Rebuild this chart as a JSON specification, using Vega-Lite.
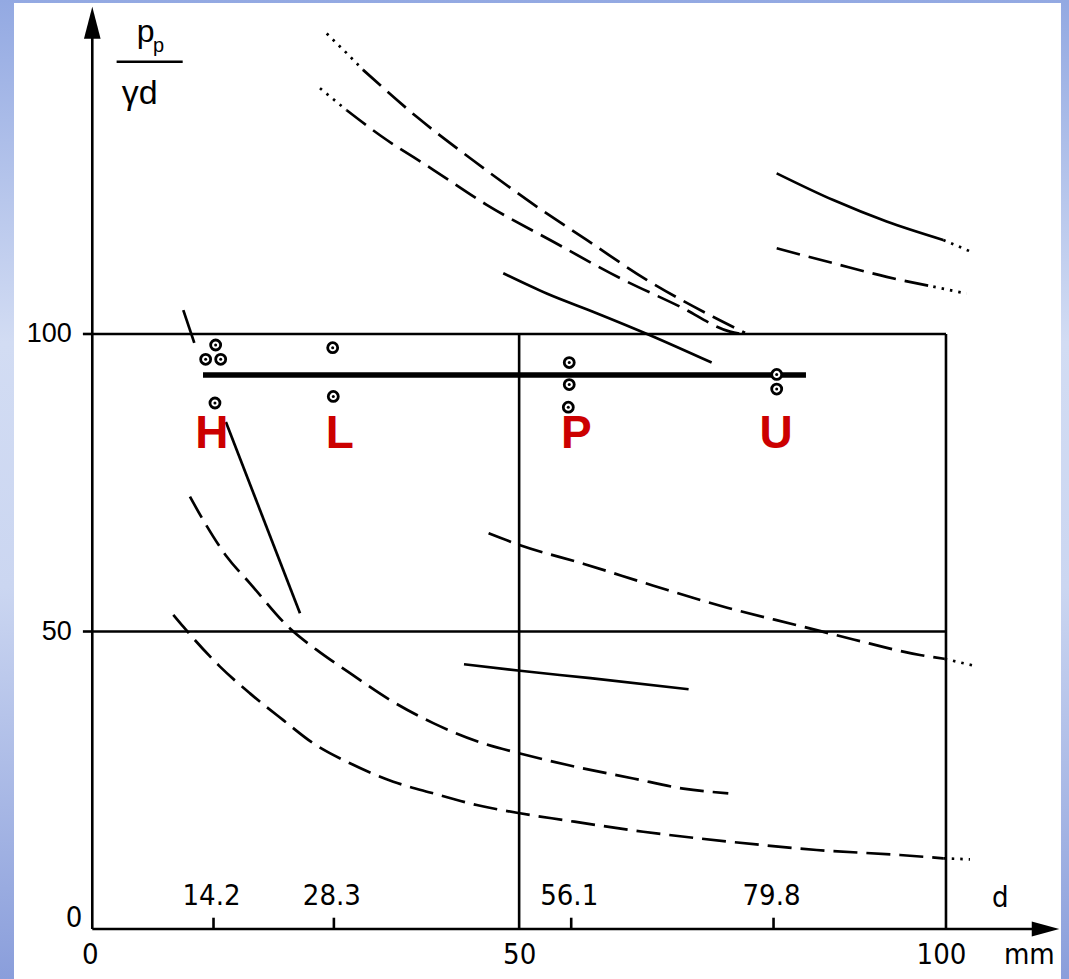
{
  "$schema": "https://vega.github.io/schema/vega-lite/v6.json",
  "width": 1069,
  "height": 979,
  "padding": 0,
  "autosize": {"type": "none"},
  "background": "white",
  "config": {"view": {"stroke": null}},
  "datasets": {
    "dashed": [
      {"curve": "A", "x": 31.71, "y": 144.4}, {"curve": "A", "x": 38.0, "y": 136.5}, {"curve": "A", "x": 44.59, "y": 129.2}, {"curve": "A", "x": 51.27, "y": 122.2}, {"curve": "A", "x": 57.91, "y": 115.8}, {"curve": "A", "x": 64.94, "y": 109.1}, {"curve": "A", "x": 72.71, "y": 102.9}, {"curve": "A", "x": 76.46, "y": 100.2},
      {"curve": "B", "x": 29.8, "y": 137.6}, {"curve": "B", "x": 33.7, "y": 133.4}, {"curve": "B", "x": 39.94, "y": 127.6}, {"curve": "B", "x": 46.2, "y": 121.7}, {"curve": "B", "x": 54.0, "y": 115.5}, {"curve": "B", "x": 61.8, "y": 109.4}, {"curve": "B", "x": 68.84, "y": 104.6}, {"curve": "B", "x": 74.7, "y": 100.4}, {"curve": "B", "x": 76.1, "y": 100.0},
      {"curve": "E", "x": 80.17, "y": 114.4}, {"curve": "E", "x": 86.8, "y": 111.9}, {"curve": "E", "x": 93.05, "y": 109.6}, {"curve": "E", "x": 98.51, "y": 107.95},
      {"curve": "I", "x": 11.44, "y": 72.66}, {"curve": "I", "x": 13.0, "y": 68.7}, {"curve": "I", "x": 15.74, "y": 62.6}, {"curve": "I", "x": 18.47, "y": 58.1}, {"curve": "I", "x": 23.16, "y": 50.5}, {"curve": "I", "x": 26.29, "y": 46.9}, {"curve": "I", "x": 30.19, "y": 43.0}, {"curve": "I", "x": 34.87, "y": 38.5}, {"curve": "I", "x": 39.94, "y": 34.6}, {"curve": "I", "x": 45.8, "y": 31.2}, {"curve": "I", "x": 50.1, "y": 29.5}, {"curve": "I", "x": 55.57, "y": 27.6}, {"curve": "I", "x": 63.37, "y": 25.3}, {"curve": "I", "x": 69.23, "y": 23.6}, {"curve": "I", "x": 74.5, "y": 22.8},
      {"curve": "J", "x": 9.49, "y": 52.8}, {"curve": "J", "x": 10.66, "y": 50.8}, {"curve": "J", "x": 14.96, "y": 44.1}, {"curve": "J", "x": 18.47, "y": 39.6}, {"curve": "J", "x": 22.37, "y": 35.1}, {"curve": "J", "x": 25.89, "y": 31.2}, {"curve": "J", "x": 30.19, "y": 27.85}, {"curve": "J", "x": 35.26, "y": 24.76}, {"curve": "J", "x": 39.94, "y": 22.8}, {"curve": "J", "x": 45.03, "y": 20.84}, {"curve": "J", "x": 50.1, "y": 19.45}, {"curve": "J", "x": 55.17, "y": 18.32}, {"curve": "J", "x": 64.54, "y": 16.35}, {"curve": "J", "x": 74.7, "y": 14.67}, {"curve": "J", "x": 84.85, "y": 13.28}, {"curve": "J", "x": 94.6, "y": 12.44}, {"curve": "J", "x": 99.68, "y": 11.88},
      {"curve": "K", "x": 46.42, "y": 66.5}, {"curve": "K", "x": 50.12, "y": 64.5}, {"curve": "K", "x": 57.5, "y": 61.4}, {"curve": "K", "x": 65.74, "y": 57.7}, {"curve": "K", "x": 74.37, "y": 54.0}, {"curve": "K", "x": 83.0, "y": 50.9}, {"curve": "K", "x": 89.16, "y": 48.66}, {"curve": "K", "x": 96.95, "y": 46.05}, {"curve": "K", "x": 99.85, "y": 45.4}
    ],
    "dotted": [
      {"curve": "A0", "x": 27.46, "y": 150.5}, {"curve": "A0", "x": 29.8, "y": 147.2}, {"curve": "A0", "x": 31.71, "y": 144.4},
      {"curve": "B0", "x": 26.67, "y": 141.3}, {"curve": "B0", "x": 29.8, "y": 137.6},
      {"curve": "D1", "x": 99.68, "y": 115.8}, {"curve": "D1", "x": 102.73, "y": 113.95},
      {"curve": "E1", "x": 98.51, "y": 107.95}, {"curve": "E1", "x": 102.42, "y": 106.8},
      {"curve": "J1", "x": 99.68, "y": 11.88}, {"curve": "J1", "x": 102.81, "y": 11.71},
      {"curve": "K1", "x": 99.85, "y": 45.4}, {"curve": "K1", "x": 103.14, "y": 44.3}
    ],
    "solid": [
      {"curve": "C", "x": 48.14, "y": 110.2}, {"curve": "C", "x": 53.23, "y": 106.8}, {"curve": "C", "x": 59.08, "y": 103.5}, {"curve": "C", "x": 65.33, "y": 99.8}, {"curve": "C", "x": 72.55, "y": 95.2},
      {"curve": "D", "x": 80.17, "y": 127.0}, {"curve": "D", "x": 86.8, "y": 122.5}, {"curve": "D", "x": 93.05, "y": 118.9}, {"curve": "D", "x": 99.68, "y": 115.8},
      {"curve": "F", "x": 10.66, "y": 104.0}, {"curve": "F", "x": 11.95, "y": 98.5},
      {"curve": "G", "x": 15.65, "y": 85.2}, {"curve": "G", "x": 24.33, "y": 53.06},
      {"curve": "M", "x": 43.54, "y": 44.5}, {"curve": "M", "x": 50.12, "y": 43.4}, {"curve": "M", "x": 58.35, "y": 42.15}, {"curve": "M", "x": 69.85, "y": 40.3}
    ],
    "mean": [
      {"x": 12.97, "y": 93.1}, {"x": 83.6, "y": 93.1}
    ],
    "points": [
      {"group": "H", "x": 14.45, "y": 98.15}, {"group": "H", "x": 13.28, "y": 95.75}, {"group": "H", "x": 15.04, "y": 95.75}, {"group": "H", "x": 14.37, "y": 88.4},
      {"group": "L", "x": 28.16, "y": 97.7}, {"group": "L", "x": 28.23, "y": 89.5},
      {"group": "P", "x": 55.87, "y": 95.2}, {"group": "P", "x": 55.87, "y": 91.5}, {"group": "P", "x": 55.76, "y": 87.7},
      {"group": "U", "x": 80.17, "y": 93.2}, {"group": "U", "x": 80.17, "y": 90.75}
    ],
    "frame": [
      {"x": 0, "y": 100, "x2": 100, "y2": 100},
      {"x": 0, "y": 50, "x2": 100, "y2": 50},
      {"x": 50, "y": 0, "x2": 50, "y2": 100},
      {"x": 100, "y": 0, "x2": 100, "y2": 100},
      {"x": 0, "y": 0, "x2": 0, "y2": 152},
      {"x": 0, "y": 0, "x2": 111, "y2": 0},
      {"x": -1.1, "y": 100, "x2": 0, "y2": 100},
      {"x": -1.1, "y": 50, "x2": 0, "y2": 50},
      {"x": 14.2, "y": 0, "x2": 14.2, "y2": 1.9},
      {"x": 28.3, "y": 0, "x2": 28.3, "y2": 1.9},
      {"x": 56.1, "y": 0, "x2": 56.1, "y2": 1.9},
      {"x": 79.8, "y": 0, "x2": 79.8, "y2": 1.9},
      {"x": 2.85, "y": 145.76, "x2": 10.59, "y2": 145.76}
    ],
    "letters": [
      {"label": "H", "x": 14.0, "y": 80.8},
      {"label": "L", "x": 29.0, "y": 80.8},
      {"label": "P", "x": 56.7, "y": 80.8},
      {"label": "U", "x": 80.1, "y": 80.8}
    ],
    "condensed": [
      {"label": "14.2", "x": 14.2, "y": 4.0},
      {"label": "28.3", "x": 28.3, "y": 4.0},
      {"label": "56.1", "x": 56.1, "y": 4.0},
      {"label": "79.8", "x": 79.8, "y": 4.0},
      {"label": "d", "x": 106.6, "y": 3.75},
      {"label": "0", "x": 0.0, "y": -5.9},
      {"label": "50", "x": 50.3, "y": -5.9},
      {"label": "100", "x": 99.7, "y": -5.9},
      {"label": "mm", "x": 110.0, "y": -5.9},
      {"label": "0", "x": -1.9, "y": 0.4}
    ],
    "ylabels": [
      {"label": "100", "x": -2.4, "y": 100},
      {"label": "50", "x": -2.4, "y": 50}
    ]
  },
  "layer": [
    {
      "data": {"values": [{}]},
      "mark": {"type": "rect", "color": {"gradient": "linear", "x1": 0, "y1": 0, "x2": 0, "y2": 1, "stops": [{"offset": 0, "color": "#93a9e2"}, {"offset": 0.35, "color": "#d2dcf3"}, {"offset": 0.6, "color": "#cbd6f1"}, {"offset": 1, "color": "#8a9edb"}]}},
      "encoding": {
        "x": {"datum": -10.81, "type": "quantitative", "scale": {"domain": [-10.81, 114.41], "nice": false, "zero": false}, "axis": null},
        "x2": {"datum": 114.41},
        "y": {"datum": -8.4, "type": "quantitative", "scale": {"domain": [-8.4, 156.13], "nice": false, "zero": false}, "axis": null},
        "y2": {"datum": 156.13}
      }
    },
    {
      "data": {"values": [{}]},
      "mark": {"type": "rect", "color": "white"},
      "encoding": {
        "x": {"datum": -9.17, "type": "quantitative", "scale": {"domain": [-10.81, 114.41], "nice": false, "zero": false}, "axis": null},
        "x2": {"datum": 113.47},
        "y": {"datum": -8.4, "type": "quantitative", "scale": {"domain": [-8.4, 156.13], "nice": false, "zero": false}, "axis": null},
        "y2": {"datum": 155.63}
      }
    },
    {
      "data": {"name": "frame"},
      "mark": {"type": "rule", "color": "black", "strokeWidth": 2.6, "strokeCap": "butt"},
      "encoding": {
        "x": {"field": "x", "type": "quantitative", "scale": {"domain": [-10.81, 114.41], "nice": false, "zero": false}, "axis": null},
        "x2": {"field": "x2"},
        "y": {"field": "y", "type": "quantitative", "scale": {"domain": [-8.4, 156.13], "nice": false, "zero": false}, "axis": null},
        "y2": {"field": "y2"}
      }
    },
    {
      "data": {"values": [{"axis": "y", "x": 0, "y": 152.3}]},
      "mark": {"type": "point", "shape": "M0,-1L0.52,1L-0.52,1Z", "size": 1024, "filled": true, "color": "black", "opacity": 1},
      "encoding": {
        "x": {"field": "x", "type": "quantitative", "scale": {"domain": [-10.81, 114.41], "nice": false, "zero": false}, "axis": null},
        "y": {"field": "y", "type": "quantitative", "scale": {"domain": [-8.4, 156.13], "nice": false, "zero": false}, "axis": null}
      }
    },
    {
      "data": {"values": [{"axis": "x", "x": 111.66, "y": 0}]},
      "mark": {"type": "point", "shape": "M1,0L-1,-0.54L-1,0.54Z", "size": 762, "filled": true, "color": "black", "opacity": 1},
      "encoding": {
        "x": {"field": "x", "type": "quantitative", "scale": {"domain": [-10.81, 114.41], "nice": false, "zero": false}, "axis": null},
        "y": {"field": "y", "type": "quantitative", "scale": {"domain": [-8.4, 156.13], "nice": false, "zero": false}, "axis": null}
      }
    },
    {
      "data": {"name": "dashed"},
      "mark": {"type": "line", "color": "black", "strokeWidth": 2.7, "strokeDash": [24, 9], "strokeCap": "butt", "interpolate": "monotone"},
      "encoding": {
        "x": {"field": "x", "type": "quantitative", "scale": {"domain": [-10.81, 114.41], "nice": false, "zero": false}, "axis": null},
        "y": {"field": "y", "type": "quantitative", "scale": {"domain": [-8.4, 156.13], "nice": false, "zero": false}, "axis": null},
        "detail": {"field": "curve", "type": "nominal"}
      }
    },
    {
      "data": {"name": "dotted"},
      "mark": {"type": "line", "color": "black", "strokeWidth": 2.7, "strokeDash": [2.5, 6], "strokeCap": "butt"},
      "encoding": {
        "x": {"field": "x", "type": "quantitative", "scale": {"domain": [-10.81, 114.41], "nice": false, "zero": false}, "axis": null},
        "y": {"field": "y", "type": "quantitative", "scale": {"domain": [-8.4, 156.13], "nice": false, "zero": false}, "axis": null},
        "detail": {"field": "curve", "type": "nominal"}
      }
    },
    {
      "data": {"name": "solid"},
      "mark": {"type": "line", "color": "black", "strokeWidth": 2.7, "strokeCap": "butt", "interpolate": "monotone"},
      "encoding": {
        "x": {"field": "x", "type": "quantitative", "scale": {"domain": [-10.81, 114.41], "nice": false, "zero": false}, "axis": null},
        "y": {"field": "y", "type": "quantitative", "scale": {"domain": [-8.4, 156.13], "nice": false, "zero": false}, "axis": null},
        "detail": {"field": "curve", "type": "nominal"}
      }
    },
    {
      "data": {"name": "mean"},
      "mark": {"type": "line", "color": "black", "strokeWidth": 5.5, "strokeCap": "butt"},
      "encoding": {
        "x": {"field": "x", "type": "quantitative", "scale": {"domain": [-10.81, 114.41], "nice": false, "zero": false}, "axis": null},
        "y": {"field": "y", "type": "quantitative", "scale": {"domain": [-8.4, 156.13], "nice": false, "zero": false}, "axis": null}
      }
    },
    {
      "data": {"name": "points"},
      "mark": {"type": "point", "shape": "circle", "size": 100, "filled": true, "fill": "white", "stroke": "black", "strokeWidth": 2.8, "opacity": 1, "fillOpacity": 1},
      "encoding": {
        "x": {"field": "x", "type": "quantitative", "scale": {"domain": [-10.81, 114.41], "nice": false, "zero": false}, "axis": null},
        "y": {"field": "y", "type": "quantitative", "scale": {"domain": [-8.4, 156.13], "nice": false, "zero": false}, "axis": null}
      }
    },
    {
      "data": {"name": "points"},
      "mark": {"type": "point", "shape": "circle", "size": 9, "filled": true, "color": "black", "opacity": 1},
      "encoding": {
        "x": {"field": "x", "type": "quantitative", "scale": {"domain": [-10.81, 114.41], "nice": false, "zero": false}, "axis": null},
        "y": {"field": "y", "type": "quantitative", "scale": {"domain": [-8.4, 156.13], "nice": false, "zero": false}, "axis": null}
      }
    },
    {
      "data": {"name": "letters"},
      "mark": {"type": "text", "font": "Liberation Sans", "fontWeight": "bold", "fontSize": 46, "color": "#cc0000", "align": "center", "baseline": "alphabetic"},
      "encoding": {
        "x": {"field": "x", "type": "quantitative", "scale": {"domain": [-10.81, 114.41], "nice": false, "zero": false}, "axis": null},
        "y": {"field": "y", "type": "quantitative", "scale": {"domain": [-8.4, 156.13], "nice": false, "zero": false}, "axis": null},
        "text": {"field": "label", "type": "nominal"}
      }
    },
    {
      "data": {"name": "condensed"},
      "mark": {"type": "text", "font": "Liberation Sans Narrow, DejaVu Sans Condensed, Liberation Sans", "fontSize": 29, "color": "black", "align": "center", "baseline": "alphabetic", "dx": -2},
      "encoding": {
        "x": {"field": "x", "type": "quantitative", "scale": {"domain": [-10.81, 114.41], "nice": false, "zero": false}, "axis": null},
        "y": {"field": "y", "type": "quantitative", "scale": {"domain": [-8.4, 156.13], "nice": false, "zero": false}, "axis": null},
        "text": {"field": "label", "type": "nominal"}
      }
    },
    {
      "data": {"name": "ylabels"},
      "mark": {"type": "text", "font": "Liberation Sans", "fontSize": 27, "color": "black", "align": "right", "baseline": "middle"},
      "encoding": {
        "x": {"field": "x", "type": "quantitative", "scale": {"domain": [-10.81, 114.41], "nice": false, "zero": false}, "axis": null},
        "y": {"field": "y", "type": "quantitative", "scale": {"domain": [-8.4, 156.13], "nice": false, "zero": false}, "axis": null},
        "text": {"field": "label", "type": "nominal"}
      }
    },
    {
      "data": {"values": [{"label": "p", "x": 5.2, "y": 149.1}]},
      "mark": {"type": "text", "font": "Liberation Sans", "fontSize": 32, "color": "black", "align": "left", "baseline": "alphabetic"},
      "encoding": {
        "x": {"field": "x", "type": "quantitative", "scale": {"domain": [-10.81, 114.41], "nice": false, "zero": false}, "axis": null},
        "y": {"field": "y", "type": "quantitative", "scale": {"domain": [-8.4, 156.13], "nice": false, "zero": false}, "axis": null},
        "text": {"field": "label", "type": "nominal"}
      }
    },
    {
      "data": {"values": [{"label": "p", "x": 7.1, "y": 147.4}]},
      "mark": {"type": "text", "font": "Liberation Sans", "fontSize": 20, "color": "black", "align": "left", "baseline": "alphabetic"},
      "encoding": {
        "x": {"field": "x", "type": "quantitative", "scale": {"domain": [-10.81, 114.41], "nice": false, "zero": false}, "axis": null},
        "y": {"field": "y", "type": "quantitative", "scale": {"domain": [-8.4, 156.13], "nice": false, "zero": false}, "axis": null},
        "text": {"field": "label", "type": "nominal"}
      }
    },
    {
      "data": {"values": [{"label": "γd", "x": 3.44, "y": 138.7}]},
      "mark": {"type": "text", "font": "Liberation Sans", "fontSize": 34, "color": "black", "align": "left", "baseline": "alphabetic"},
      "encoding": {
        "x": {"field": "x", "type": "quantitative", "scale": {"domain": [-10.81, 114.41], "nice": false, "zero": false}, "axis": null},
        "y": {"field": "y", "type": "quantitative", "scale": {"domain": [-8.4, 156.13], "nice": false, "zero": false}, "axis": null},
        "text": {"field": "label", "type": "nominal"}
      }
    }
  ]
}
